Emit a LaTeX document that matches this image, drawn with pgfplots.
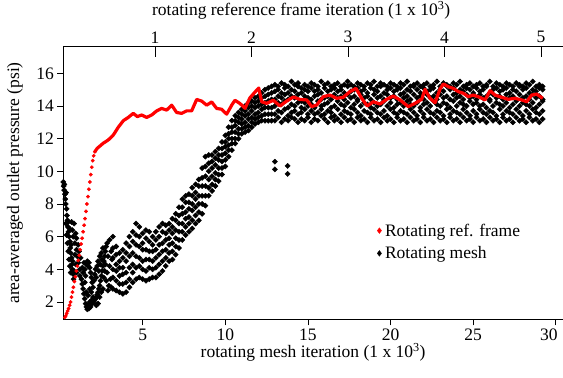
\documentclass[border=0pt]{standalone}
\usepackage{fontspec}
\setmainfont{Liberation Serif}
\usepackage{pgfplots}
\usepackage{pgfplotstable}
\pgfplotsset{compat=1.18}
\pgfplotstableread{
x a b c d e f
3.2 2.8 3.5 4.0 4.7 5.3 6.0
3.4 2.7 3.3 3.9 4.3 4.9 5.4
3.6 2.6 3.1 3.6 4.1 4.5 5.0
3.8 2.5 3.1 3.7 4.1 4.7 5.2
4.0 2.6 3.2 3.8 4.5 5.0 5.6
4.2 2.9 3.4 4.1 4.8 5.4 6.0
4.4 3.2 3.8 4.3 5.0 5.7 6.3
4.6 3.4 4.1 4.8 5.5 6.1 6.8
4.8 3.5 4.2 4.7 5.4 6.0 6.6
5.0 3.4 4.0 4.5 5.2 5.6 6.2
5.2 3.3 3.9 4.6 5.2 5.9 6.4
5.4 3.4 4.1 4.6 5.1 5.7 6.3
5.6 3.5 4.0 4.5 5.1 5.5 6.0
5.8 3.5 4.1 4.7 5.2 5.8 6.3
6.0 3.7 4.3 4.9 5.5 6.0 6.6
6.2 3.9 4.5 5.1 5.6 6.3 6.8
6.4 4.2 4.7 5.2 5.8 6.2 6.7
6.6 4.5 5.0 5.5 5.9 6.4 6.8
6.8 4.6 5.1 5.6 6.2 6.6 7.1
7.0 4.9 5.4 5.9 6.4 7.0 7.4
7.2 5.3 5.8 6.3 6.8 7.3 7.8
7.4 5.8 6.3 6.8 7.4 7.8 8.3
7.6 6.1 6.6 7.1 7.5 8.1 8.5
7.8 6.3 6.8 7.2 7.7 8.1 8.6
8.0 6.5 7.0 7.6 8.0 8.5 9.0
8.2 6.8 7.3 7.8 8.3 8.7 9.2
8.4 7.0 7.5 8.0 8.5 9.1 9.5
8.6 7.4 8.0 8.5 9.1 9.6 10.2
8.8 7.9 8.5 9.1 9.7 10.3 10.9
9.0 8.5 9.0 9.5 10.0 10.5 11.0
9.2 8.8 9.2 9.7 10.2 10.6 11.0
9.4 9.1 9.5 9.9 10.4 10.8 11.2
9.6 9.4 9.8 10.2 10.7 11.0 11.4
9.8 9.8 10.2 10.6 11.0 11.4 11.8
10.0 10.3 10.7 11.1 11.5 11.8 12.2
10.2 10.9 11.3 11.6 12.0 12.3 12.7
10.4 11.3 11.7 12.0 12.4 12.7 13.1
10.6 11.7 12.0 12.4 12.8 13.1 13.4
10.8 12.0 12.3 12.6 13.0 13.3 13.6
11.0 12.3 12.6 12.9 13.2 13.5 13.8
11.2 12.4 12.7 13.0 13.4 13.7 14.0
11.4 12.5 12.8 13.2 13.5 13.9 14.2
11.6 12.7 13.0 13.3 13.7 14.0 14.3
11.8 12.9 13.2 13.5 13.9 14.2 14.5
12.0 13.0 13.3 13.6 14.0 14.3 14.6
12.2 13.1 13.4 13.8 14.1 14.5 14.8
12.4 13.1 13.5 13.9 14.2 14.6 15.0
12.6 13.1 13.5 13.9 14.3 14.7 15.1
12.8 13.1 13.5 13.9 14.4 14.8 15.2
13.0 13.1 13.5 14.0 14.4 14.9 15.3
13.2 13.3 13.7 14.2 14.6 15.0 15.2
13.4 13.0 13.6 14.1 14.5 14.8 15.4
13.6 13.2 13.8 14.3 14.7 15.1 15.3
13.8 13.1 13.4 13.9 14.4 14.8 15.2
14.0 13.3 13.6 14.1 14.6 15.0 15.5
14.2 13.2 13.7 14.0 14.5 14.9 15.3
14.4 13.0 13.5 14.2 14.7 15.2 15.4
14.6 13.2 13.6 13.9 14.3 14.8 15.1
14.8 13.1 13.8 14.2 14.6 15.0 15.3
15.0 13.3 13.5 14.0 14.5 14.9 15.2
15.2 13.0 13.7 14.1 14.4 15.1 15.4
15.4 13.2 13.5 13.9 14.6 14.9 15.3
15.6 13.1 13.6 14.3 14.7 15.0 15.2
15.8 13.4 13.8 14.0 14.4 14.8 15.5
16.0 13.2 13.5 14.1 14.5 15.1 15.3
16.2 13.0 13.7 14.2 14.6 14.9 15.4
16.4 13.3 13.6 13.9 14.4 15.0 15.2
16.6 13.1 13.4 14.0 14.7 15.1 15.3
16.8 13.2 13.8 14.3 14.5 14.9 15.4
17.0 13.0 13.5 14.1 14.6 15.0 15.2
17.2 13.3 13.7 14.0 14.4 14.8 15.3
17.4 13.1 13.6 14.2 14.7 15.2 15.5
17.6 13.2 13.5 13.9 14.5 14.9 15.3
17.8 13.0 13.8 14.1 14.6 15.0 15.2
18.0 13.3 13.6 14.3 14.4 15.1 15.4
18.2 13.1 13.4 14.0 14.7 14.9 15.3
18.4 13.2 13.7 14.2 14.5 15.0 15.2
18.6 13.0 13.6 14.1 14.6 14.8 15.4
18.8 13.3 13.5 13.9 14.4 15.1 15.3
19.0 13.1 13.8 14.2 14.7 15.0 15.5
19.2 13.2 13.6 14.0 14.5 14.9 15.2
19.4 13.0 13.5 14.1 14.6 15.2 15.4
19.6 13.3 13.7 14.3 14.4 14.8 15.3
19.8 13.1 13.4 14.0 14.7 15.0 15.2
20.0 13.2 13.8 14.2 14.5 15.1 15.4
20.2 13.0 13.6 13.9 14.6 14.9 15.3
20.4 13.3 13.5 14.1 14.4 15.0 15.2
20.6 13.1 13.7 14.2 14.7 15.1 15.4
20.8 13.2 13.6 14.0 14.5 14.8 15.3
21.0 13.0 13.5 14.3 14.6 15.0 15.5
21.2 13.3 13.8 14.1 14.4 14.9 15.2
21.4 13.1 13.6 14.0 14.7 15.2 15.3
21.6 13.2 13.4 14.2 14.5 15.0 15.4
21.8 13.0 13.7 13.9 14.6 14.8 15.2
22.0 13.3 13.5 14.1 14.4 15.1 15.3
22.2 13.1 13.8 14.2 14.7 14.9 15.4
22.4 13.2 13.6 14.0 14.5 15.0 15.2
22.6 13.0 13.5 14.3 14.6 15.1 15.3
22.8 13.3 13.7 14.1 14.4 14.8 15.5
23.0 13.1 13.6 14.0 14.7 15.0 15.2
23.2 13.2 13.4 14.2 14.5 14.9 15.4
23.4 13.0 13.8 14.1 14.6 15.2 15.3
23.6 13.3 13.5 13.9 14.4 15.0 15.2
23.8 13.1 13.7 14.3 14.7 15.1 15.4
24.0 13.2 13.6 14.0 14.5 14.8 15.3
24.2 13.0 13.5 14.2 14.6 15.0 15.5
24.4 13.3 13.8 14.1 14.4 14.9 15.2
24.6 13.1 13.6 14.0 14.7 15.1 15.3
24.8 13.2 13.4 14.3 14.5 15.0 15.4
25.0 13.0 13.7 14.1 14.6 14.8 15.2
25.2 13.3 13.5 14.2 14.4 15.1 15.3
25.4 13.1 13.8 14.0 14.7 14.9 15.4
25.6 13.2 13.6 14.1 14.5 15.0 15.2
25.8 13.0 13.5 13.9 14.6 15.2 15.3
26.0 13.3 13.7 14.3 14.4 14.8 15.5
26.2 13.1 13.6 14.0 14.7 15.0 15.2
26.4 13.2 13.4 14.2 14.5 15.1 15.4
26.6 13.0 13.8 14.1 14.6 14.9 15.3
26.8 13.3 13.5 14.0 14.4 15.0 15.2
27.0 13.1 13.7 14.2 14.7 15.1 15.4
27.2 13.2 13.6 13.9 14.5 14.8 15.3
27.4 13.0 13.5 14.1 14.6 15.0 15.2
27.6 13.3 13.8 14.3 14.4 14.9 15.4
27.8 13.1 13.6 14.0 14.7 15.2 15.3
28.0 13.2 13.4 14.2 14.5 15.0 15.2
28.2 13.0 13.7 14.1 14.6 15.1 15.4
28.4 13.3 13.5 14.0 14.4 14.8 15.3
28.6 13.1 13.8 14.2 14.7 15.0 15.5
28.8 13.2 13.6 13.9 14.5 14.9 15.2
29.0 13.0 13.5 14.1 14.6 15.1 15.3
29.2 13.2 13.7 14.3 14.4 15.0 15.2
}\meshband
\begin{document}
\begin{tikzpicture}[font=\fontsize{17.5}{21}\selectfont]
\begin{axis}[
  at={(0,0)}, anchor=south west,
  scale only axis, width=499.7pt, height=272.6pt,
  xmin=0.2, xmax=30.43, ymin=0.94, ymax=17.63,
  axis x line*=bottom, axis y line*=left,
  axis line style={-, line width=1.2pt},
  tick align=outside, major tick length=6pt,
  tick style={line width=0.8pt, black},
  xtick={5,10,...,25}, ytick={2,4,...,16},
  extra x ticks={30},
  extra x tick style={xticklabel style={xshift=-7pt}},
  /pgf/number format/assume math mode=true,
  tick label style={font=\fontsize{17.5}{21}\selectfont},
  xlabel={rotating mesh iteration (1 x 10\textsuperscript{3})},
  ylabel={area-averaged outlet pressure (psi)},
  xlabel style={at={(axis description cs:0.5,-0.12)}, anchor=center},
  ylabel style={at={(axis description cs:-0.0966,0.5)}, anchor=center},
  legend style={at={(axis description cs:0.628,0.366)}, anchor=north west,
    draw=none, fill=none, font=\fontsize{17.5}{21}\selectfont, row sep=5pt,
    inner xsep=0pt, nodes={inner xsep=3.5pt}},
  legend cell align=left,
  legend image code/.code={\draw[#1] plot coordinates {(0pt,0pt)};},
]
\addlegendimage{only marks, mark=diamond*, red, mark size=2.8pt}
\addlegendentry{Rotating ref. frame}
\addlegendimage{only marks, mark=diamond*, black, mark size=2.8pt}
\addlegendentry{Rotating mesh}
\pgfplotsset{meshstyle/.style={only marks, mark=square*, mark size=1.85pt, mark options={rotate=45}, black, forget plot}}
\addplot[meshstyle] coordinates {
(0.20,9.35)(0.22,9.1)(0.25,8.85)(0.27,9.2)(0.3,8.6)(0.32,8.3)(0.35,8.0)(0.37,8.7)(0.4,7.7)(0.42,7.3)
(0.45,7.0)(0.48,6.6)(0.5,6.9)(0.52,6.3)(0.55,6.0)(0.57,6.5)(0.6,5.7)(0.62,5.3)(0.65,5.0)(0.67,5.5)
(0.7,4.7)(0.72,4.3)(0.75,4.0)(0.77,4.5)(0.8,3.7)(0.82,3.4)(0.85,3.9)
(0.7,6.9)(0.75,6.4)(0.8,6.0)(0.85,6.8)(0.9,5.6)(0.95,6.2)(1.0,5.9)(1.0,5.2)(1.05,4.8)(1.1,5.5)
(1.1,4.4)(1.15,5.1)(1.2,4.0)(1.2,3.6)(1.25,4.7)(1.3,3.4)(0.9,4.9)(0.95,4.3)(1.0,3.8)(0.6,4.2)
(0.65,3.8)(0.55,4.6)(0.5,5.1)(0.45,5.6)(0.4,6.1)(0.35,6.8)
(1.35,4.1)(1.4,3.8)(1.45,4.4)(1.5,4.0)(1.55,3.6)(1.6,4.3)(1.65,4.5)(1.7,4.2)(1.75,4.4)(1.8,4.1)
(1.85,3.8)(1.9,3.5)(1.95,3.2)
(1.35,3.1)(1.4,2.8)(1.45,2.5)(1.5,2.2)(1.55,1.9)(1.6,1.7)(1.65,1.55)(1.7,1.8)(1.75,1.6)(1.8,2.0)
(1.85,1.7)(1.9,2.1)(1.95,1.9)(1.5,3.2)(1.6,2.6)(1.7,2.4)(1.8,2.8)(1.9,2.6)(2.0,2.3)(2.0,2.9)
(2.05,2.0)(2.1,2.15)(2.15,2.2)(2.2,2.3)(2.25,2.45)(2.3,2.6)(2.35,2.8)(2.4,3.0)(2.45,3.3)(2.5,3.6)
(2.55,3.9)(2.6,4.2)(2.65,4.5)(2.7,4.8)(2.75,5.1)(2.8,5.4)
(2.05,3.3)(2.1,3.7)(2.15,4.0)(2.2,3.5)(2.25,4.2)(2.3,4.5)(2.35,3.9)(2.4,4.8)(2.45,4.3)(2.5,5.0)
(2.55,4.6)(2.6,5.3)(2.65,3.5)(2.7,3.9)(2.75,4.3)(2.8,3.3)(2.85,5.6)(2.9,4.8)(2.95,3.0)(3.0,5.8)
(3.0,4.2)(3.05,3.4)(3.1,5.1)(3.1,2.9)(3.15,4.6)(2.9,2.7)(2.85,3.8)(2.6,2.8)(2.5,2.6)(2.4,2.3)
(2.3,1.9)(2.2,1.8)
(13.0,10.59)(13.0,10.12)(13.77,10.33)(13.77,9.84)
};
\addplot[meshstyle] table[x=x, y=a] {\meshband};
\addplot[meshstyle] table[x=x, y=b] {\meshband};
\addplot[meshstyle] table[x=x, y=c] {\meshband};
\addplot[meshstyle] table[x=x, y=d] {\meshband};
\addplot[meshstyle] table[x=x, y=e] {\meshband};
\addplot[meshstyle] table[x=x, y=f] {\meshband};
\end{axis}
\begin{axis}[
  at={(0,0)}, anchor=south west,
  scale only axis, width=499.7pt, height=272.6pt,
  xmin=0.05, xmax=5.228, ymin=0.94, ymax=17.63,
  axis x line*=top, axis y line=none, ytick=\empty,
  axis line style={-, line width=1.2pt},
  tick align=inside, major tick length=10pt,
  tick style={line width=0.8pt, black},
  xtick={1,2,3,4,5},
  /pgf/number format/assume math mode=true,
  tick label style={font=\fontsize{17.5}{21}\selectfont},
  xlabel={rotating reference frame iteration (1 x 10\textsuperscript{3})},
  xlabel style={at={(axis description cs:0.476,1.133)}, anchor=center},
]
\addplot[only marks, mark=*, mark size=1.7pt, red] coordinates {
(0.065,1.05)(0.075,1.15)(0.085,1.3)(0.095,1.45)(0.105,1.6)(0.115,1.8)(0.125,2.0)(0.135,2.3)
(0.145,2.6)(0.155,2.9)(0.165,3.25)(0.175,3.55)(0.185,3.9)(0.195,4.2)(0.205,4.55)(0.215,4.85)
(0.225,5.2)(0.235,5.55)(0.245,5.9)(0.255,6.3)(0.265,6.7)(0.275,7.1)(0.285,7.55)(0.295,8.0)
(0.305,8.45)(0.315,8.9)(0.325,9.35)(0.335,9.8)(0.345,10.25)(0.355,10.65)(0.365,10.95)(0.377,11.2)
};
\addplot[red, line width=3.2pt, line join=round] coordinates {
(0.377,11.2)(0.40,11.4)(0.43,11.55)(0.464,11.72)(0.516,11.92)(0.568,12.22)(0.62,12.7)(0.672,13.1)
(0.723,13.3)(0.775,13.55)(0.817,13.35)(0.862,13.45)(0.914,13.3)(0.966,13.45)(1.018,13.7)(1.069,13.85)
(1.121,13.75)(1.173,14.05)(1.225,13.6)(1.277,13.55)(1.328,13.7)(1.380,13.7)(1.432,14.4)(1.484,14.3)
(1.536,14.05)(1.588,14.25)(1.639,13.85)(1.691,13.8)(1.743,13.5)(1.795,14.05)(1.829,14.35)(1.881,14.15)
(1.933,13.86)(1.984,14.5)(2.036,14.85)(2.075,15.1)(2.106,14.26)(2.157,14.16)(2.226,14.35)(2.295,14.0)
(2.365,14.3)(2.433,14.55)(2.503,14.4)(2.572,14.37)(2.624,13.96)(2.676,14.06)(2.744,14.57)(2.813,14.67)
(2.883,14.47)(2.951,14.53)(3.021,14.88)(3.083,15.08)(3.142,14.47)(3.2,14.0)(3.262,14.26)(3.332,14.12)
(3.401,14.41)(3.469,14.61)(3.539,14.37)(3.625,13.96)(3.694,14.16)(3.764,14.41)(3.798,15.02)(3.850,14.47)
(3.902,14.2)(3.953,15.02)(3.988,15.35)(4.039,15.18)(4.091,15.08)(4.143,14.88)(4.195,14.78)(4.247,14.57)
(4.298,14.67)(4.368,14.53)(4.420,14.37)(4.472,14.94)(4.523,14.67)(4.593,14.53)(4.661,14.41)(4.731,14.47)
(4.800,14.37)(4.852,14.26)(4.904,14.67)(4.955,14.73)(5.018,14.47)
};
\end{axis}
\pgfresetboundingbox
\path ([shift={(-63.3pt,-58.7pt)}]current axis.south west) rectangle ([shift={(0pt,46.7pt)}]current axis.north east);
\end{tikzpicture}
\end{document}
